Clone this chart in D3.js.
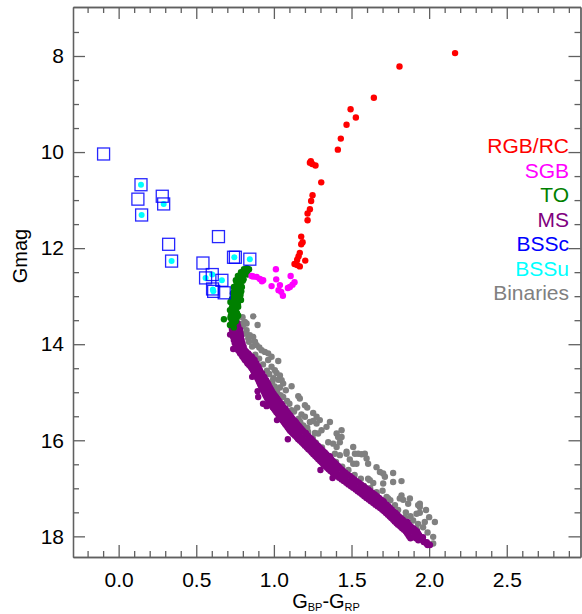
<!DOCTYPE html>
<html><head><meta charset="utf-8">
<script src="https://cdn.jsdelivr.net/npm/d3@7"></script>
<style>body{margin:0;background:#fff}svg{display:block}text{font-family:Arial,"Liberation Sans",sans-serif}</style>
</head><body><svg id="c" width="582" height="614"></svg>
<script>
// ---- tick labels ----
const xTicksMajor = [0, 0.5, 1.0, 1.5, 2.0, 2.5];
const yTicksMajor = [8, 10, 12, 14, 16, 18];
const legendLabels = ["RGB/RC", "SGB", "TO", "MS", "BSSc", "BSSu", "Binaries"];
const legendColors = ["#ff0000", "#ff00ff", "#008000", "#800080", "#0000ff", "#00ffff", "#808080"];

// ---- data: [G_BP-G_RP, Gmag] ----
const rgbRC = [[2.167,7.94],[1.809,8.22],[1.644,8.87],[1.494,9.11],[1.528,9.28],[1.468,9.43],[1.431,9.72],[1.412,9.95],
 [1.238,10.19],[1.247,10.25],[1.268,10.28],[1.232,10.22],[1.305,10.63],[1.249,10.90],[1.240,11.02],[1.232,11.19],
 [1.217,11.28],[1.217,11.42],[1.176,11.76],[1.185,11.875],[1.176,11.92],[1.167,12.10],[1.159,12.17],[1.150,12.24],
 [1.202,12.26],[1.133,12.33],[1.150,12.35],[1.167,12.38]];
const sgb = [[0.856,12.58],[0.867,12.59],[0.889,12.60],[0.910,12.64],[0.923,12.69],[0.931,12.67],[1.013,12.44],[1.015,12.65],
 [0.985,12.79],[1.039,12.77],[1.030,12.875],[1.047,12.91],[1.058,12.99],[1.108,12.58],[1.133,12.71],[1.120,12.76],
 [1.103,12.81],[1.090,12.83]];
const to = [[0.826,12.417],[0.807,12.44],[0.788,12.5],[0.820,12.52],[0.768,12.58],[0.794,12.60],[0.755,12.67],[0.781,12.71],
 [0.762,12.77],[0.742,12.81],[0.775,12.83],[0.755,12.90],[0.736,12.94],[0.768,12.96],[0.749,13.02],[0.781,13.0],
 [0.730,13.06],[0.755,13.10],[0.742,13.17],[0.768,13.17],[0.730,13.23],[0.755,13.27],[0.736,13.33],[0.762,13.35],
 [0.723,13.40],[0.749,13.44],[0.730,13.50],[0.755,13.52],[0.736,13.58],[0.678,13.48],[0.717,13.60],[0.742,13.65],
 [0.788,13.08],[0.794,12.81],[0.717,13.29],
 [0.840,12.44],[0.815,12.47],[0.830,12.55],[0.800,12.55],[0.805,12.65],[0.775,12.64],[0.785,12.75],[0.760,12.72],
 [0.790,12.90],[0.765,12.87],[0.745,12.88],[0.785,12.97],[0.760,13.05],[0.745,13.12],[0.770,13.22],[0.745,13.22],
 [0.725,13.32],[0.750,13.38],[0.760,13.46],[0.720,13.45],[0.745,13.55],[0.770,13.40],[0.720,13.12],[0.800,12.68]];
const ms = [
 [0.728,13.56],[0.748,13.56],[0.765,13.56],[0.726,13.63],[0.745,13.63],[0.770,13.63],[0.730,13.70],[0.752,13.70],[0.782,13.70],
 [0.733,13.77],[0.758,13.77],[0.785,13.77],[0.736,13.84],[0.762,13.84],[0.788,13.84],[0.742,13.91],[0.765,13.91],[0.792,13.91],
 [0.748,13.98],[0.772,13.98],[0.798,13.98],[0.756,14.05],[0.780,14.05],[0.805,14.05],[0.768,14.12],[0.790,14.12],[0.812,14.12],
 [0.782,14.19],[0.805,14.19],[0.835,14.19],[0.798,14.26],[0.825,14.26],[0.858,14.26],[0.813,14.33],[0.845,14.33],[0.876,14.33],
 [0.830,14.40],[0.858,14.40],[0.888,14.40],[0.850,14.47],[0.875,14.47],[0.900,14.47],[0.866,14.54],[0.888,14.54],[0.910,14.54],
 [0.876,14.61],[0.900,14.61],[0.924,14.61],[0.888,14.68],[0.912,14.68],[0.938,14.68],[0.900,14.75],[0.925,14.75],[0.950,14.75],
 [0.910,14.82],[0.935,14.82],[0.962,14.82],[0.920,14.89],[0.946,14.89],[0.972,14.89],[0.932,14.96],[0.958,14.96],[0.984,14.96],
 [0.942,15.03],[0.970,15.03],[0.998,15.03],[0.952,15.10],[0.982,15.10],[1.014,15.10],[0.964,15.17],[0.995,15.17],[1.030,15.17],
 [0.975,15.24],[1.010,15.24],[1.048,15.24],[0.992,15.31],[1.025,15.31],[1.062,15.31],[1.008,15.38],[1.042,15.38],[1.078,15.38],
 [1.025,15.45],[1.060,15.45],[1.096,15.45],[1.040,15.52],[1.076,15.52],[1.113,15.52],[1.056,15.59],[1.092,15.59],[1.134,15.59],
 [1.072,15.66],[1.110,15.66],[1.150,15.66],[1.088,15.73],[1.128,15.73],[1.168,15.73],[1.104,15.80],[1.145,15.80],[1.187,15.80],
 [1.124,15.87],[1.165,15.87],[1.208,15.87],[1.148,15.94],[1.186,15.94],[1.230,15.94],[1.168,16.01],[1.208,16.01],[1.251,16.01],
 [1.190,16.08],[1.230,16.08],[1.273,16.08],[1.212,16.15],[1.252,16.15],[1.295,16.15],[1.234,16.22],[1.274,16.22],[1.316,16.22],
 [1.254,16.29],[1.295,16.29],[1.338,16.29],[1.276,16.36],[1.318,16.36],[1.360,16.36],[1.298,16.43],[1.338,16.43],[1.380,16.43],
 [1.318,16.50],[1.360,16.50],[1.402,16.50],[1.342,16.57],[1.382,16.57],[1.424,16.57],[1.364,16.64],[1.404,16.64],[1.446,16.64],
 [1.392,16.71],[1.432,16.71],[1.474,16.71],[1.420,16.78],[1.460,16.78],[1.503,16.78],[1.450,16.85],[1.490,16.85],[1.532,16.85],
 [1.480,16.92],[1.520,16.92],[1.562,16.92],[1.510,16.99],[1.550,16.99],[1.592,16.99],[1.540,17.06],[1.580,17.06],[1.622,17.06],
 [1.568,17.13],[1.608,17.13],[1.650,17.13],[1.596,17.20],[1.636,17.20],[1.678,17.20],[1.624,17.27],[1.664,17.27],[1.706,17.27],
 [1.654,17.34],[1.690,17.34],[1.726,17.34],[1.684,17.41],[1.716,17.41],[1.748,17.41],[1.710,17.48],[1.740,17.48],[1.770,17.48],
 [1.734,17.55],[1.765,17.55],[1.795,17.55],[1.756,17.62],[1.788,17.62],[1.818,17.62],[1.778,17.69],[1.810,17.69],[1.842,17.69],
 [1.800,17.76],[1.835,17.76],[1.870,17.76],[1.826,17.83],[1.862,17.83],[1.898,17.83],[1.850,17.90],[1.888,17.90],[1.922,17.90],
 [1.866,17.97],[1.905,17.97],[1.935,17.97],[1.880,18.04],[1.915,18.04],[1.945,18.04],[1.965,18.12],[1.985,18.12],
 [1.990,18.18],[2.005,18.18],
 [0.899,15.10],[0.953,15.29],[1.157,15.98],[1.378,16.785],[1.983,18.15],[2.0,18.17],
 [0.735,13.595],[0.758,13.595],[0.736,13.665],[0.762,13.665],[0.740,13.735],[0.768,13.735],[0.745,13.805],[0.774,13.805],
 [0.748,13.875],[0.777,13.875],[0.752,13.945],[0.782,13.945],[0.760,14.015],[0.790,14.015],[0.772,14.085],[0.800,14.085],
 [0.778,14.155],[0.822,14.155],[0.792,14.225],[0.842,14.225],[0.808,14.295],[0.864,14.295],[0.824,14.365],[0.874,14.365],
 [0.840,14.435],[0.890,14.435],[0.858,14.505],[0.902,14.505],[0.870,14.575],[0.914,14.575],[0.882,14.645],[0.928,14.645],
 [0.894,14.715],[0.940,14.715],[0.905,14.785],[0.955,14.785],[0.914,14.855],[0.966,14.855],[0.926,14.925],[0.978,14.925],
 [0.936,14.995],[0.990,14.995],[0.946,15.065],[1.006,15.065],[0.958,15.135],[1.022,15.135],[0.970,15.205],[1.038,15.205],
 [0.984,15.275],[1.055,15.275],[1.000,15.345],[1.070,15.345],[1.016,15.415],[1.088,15.415],[1.032,15.485],[1.105,15.485],
 [1.048,15.555],[1.122,15.555],[1.064,15.625],[1.142,15.625],[1.080,15.695],[1.160,15.695],[1.096,15.765],[1.178,15.765],
 [1.114,15.835],[1.198,15.835],[1.136,15.905],[1.220,15.905],[1.158,15.975],[1.242,15.975],[1.180,16.045],[1.262,16.045],
 [1.200,16.115],[1.284,16.115],[1.222,16.185],[1.306,16.185],[1.244,16.255],[1.328,16.255],[1.266,16.325],[1.350,16.325],
 [1.286,16.395],[1.370,16.395],[1.308,16.465],[1.392,16.465],[1.330,16.535],[1.414,16.535],[1.352,16.605],[1.436,16.605],
 [1.378,16.675],[1.460,16.675],[1.406,16.745],[1.490,16.745],[1.436,16.815],[1.518,16.815],[1.466,16.885],[1.548,16.885],
 [1.496,16.955],[1.578,16.955],[1.526,17.025],[1.608,17.025],[1.554,17.095],[1.636,17.095],[1.582,17.165],[1.664,17.165],
 [1.610,17.235],[1.692,17.235],[1.640,17.305],[1.712,17.305],[1.668,17.375],[1.738,17.375],[1.698,17.445],[1.760,17.445],
 [1.722,17.515],[1.784,17.515],[1.746,17.585],[1.806,17.585],[1.768,17.655],[1.830,17.655],[1.790,17.725],[1.856,17.725],
 [1.814,17.795],[1.882,17.795],[1.838,17.865],[1.910,17.865],[1.858,17.935],[1.928,17.935],[1.872,18.005],[1.940,18.005],
 [1.930,18.08],[1.960,18.08],
 [0.718,13.80],[0.738,14.10],[0.860,14.68],[0.895,14.98],[0.930,15.24],[1.020,15.58],[1.090,15.98],[1.300,16.62],
 [0.830,14.24],[0.960,14.82],[1.075,15.35],[1.205,15.85],[1.360,16.33],[1.520,16.90],[1.700,17.38],[1.860,17.70],[1.960,18.02]];
const binaries = [[0.867,13.42],[0.895,13.60],[0.813,13.535],[0.798,13.57],[0.824,13.71],[0.845,13.81],[0.835,13.88],[0.867,13.85],
 [0.878,13.95],[0.889,14.02],[0.906,14.07],[0.921,14.125],[0.942,14.16],[0.963,14.19],[0.985,14.26],[0.963,14.33],
 [1.028,14.35],[0.985,14.47],[1.006,14.54],[1.017,14.60],[1.039,14.65],[0.996,14.71],[1.028,14.74],[1.050,14.75],
 [1.060,14.82],[1.077,14.96],[1.114,14.875],[1.039,14.90],[1.043,15.06],[1.157,15.08],[1.167,15.13],[1.200,15.27],
 [1.215,15.32],[1.114,15.375],[1.150,15.32],[1.178,15.46],[1.200,15.51],[1.253,15.43],[1.275,15.51],[1.253,15.60],
 [1.232,15.62],[1.189,15.69],[1.215,15.74],[1.275,15.65],[1.296,15.58],[1.339,15.72],[1.361,15.62],[1.307,15.79],
 [1.264,15.85],[1.285,15.86],[1.436,15.79],[1.414,15.93],[1.425,16.04],[1.350,16.04],[1.404,16.14],[1.393,16.28],
 [1.468,16.28],[1.511,16.14],[1.522,16.28],[1.565,16.29],[1.586,16.28],[1.597,16.38],[1.511,16.49],[1.532,16.49],
 [1.607,16.49],[1.661,16.56],[1.683,16.66],[1.704,16.69],[1.607,16.80],[1.640,16.89],[1.704,16.90],[1.768,16.87],
 [1.822,16.85],[1.736,17.21],[1.822,17.15],[1.833,17.24],[1.876,17.21],[1.940,17.32],[1.940,17.39],[1.919,17.53],
 [1.940,17.51],[1.844,17.60],[1.897,17.67],[1.929,17.74],[1.972,17.70],[2.037,17.70],[1.961,17.81],[2.026,18.01],
 [2.026,18.15],[1.768,16.68],[1.715,16.76],[1.683,17.25],[0.798,13.44],[0.824,13.57],[1.404,15.86],[1.436,15.93],
 [1.382,16.07],[1.468,16.24],[1.425,16.31],[1.543,16.28],[1.489,16.40],[1.618,16.83],[1.661,17.08],[1.726,17.18],
 [1.811,17.21],[1.865,17.32],[1.929,17.35],
 [0.800,13.62],[0.815,13.78],[0.840,13.95],[0.860,14.05],[0.880,14.22],[0.905,14.30],[0.930,14.42],[0.955,14.55],
 [0.970,14.62],[0.990,14.78],[1.005,14.88],[1.020,14.98],[1.060,15.10],[1.085,15.18],[1.100,15.24],[1.130,15.40],
 [1.160,15.55],[1.170,15.62],[1.220,15.82],[1.250,15.95],[1.270,16.05],[1.310,16.15],[1.330,16.30],[1.360,16.38],
 [1.400,16.45],[1.440,16.55],[1.480,16.62],[1.520,16.72],[1.560,16.80],[1.580,16.95],[1.620,17.00],[1.660,17.12],
 [1.700,17.05],[1.750,17.25],[1.780,17.35],[1.800,17.45],[1.850,17.50],[1.880,17.58],[1.920,17.85],[1.990,17.92],
 [2.000,17.60],[1.980,17.45]];
const bssc = [[-0.097,10.04],[0.144,10.68],[0.124,10.98],[0.281,10.92],[0.290,11.08],[0.148,11.31],[0.322,11.92],[0.341,12.27],
 [0.643,11.76],[0.543,12.31],[0.740,12.19],[0.752,12.19],[0.845,12.23],[0.560,12.62],[0.603,12.55],[0.665,12.67],
 [0.605,12.85],[0.612,12.90],[0.680,12.93]];
const bssu = [[0.144,10.68],[0.290,11.08],[0.148,11.31],[0.341,12.27],[0.745,12.19],[0.845,12.23],[0.560,12.62],[0.603,12.55],
 [0.665,12.67],[0.607,12.86],[0.610,12.90]];

// ---- layout ----
const P = {l:73, r:580.5, t:7, b:557};
const svg = d3.select("#c");
const x = d3.scaleLinear().domain([-0.294, 2.975]).range([P.l, P.r]);
const y = d3.scaleLinear().domain([6.98, 18.43]).range([P.t, P.b]);
const xMinor = d3.range(-2, 30).map(d => d/10).filter(d => Math.abs(d*2 - Math.round(d*2)) > 1e-6);
const yMinor = d3.range(15, 37).map(d => d/2).filter(d => d % 2 !== 0);

const axisColor = "#606060";
function style(g){
  g.selectAll("path,line").attr("stroke", axisColor).attr("stroke-width", 1.3);
  g.selectAll("text").attr("fill", "#000").attr("font-size", 21).attr("font-family", "Arial, 'Liberation Sans', sans-serif");
}
svg.append("g").attr("transform", `translate(0,${P.b})`)
  .call(d3.axisBottom(x).tickValues(xTicksMajor).tickSize(-12).tickSizeOuter(0).tickPadding(15).tickFormat(d3.format(".1f"))).call(style);
svg.append("g").attr("transform", `translate(0,${P.b})`)
  .call(d3.axisBottom(x).tickValues(xMinor).tickSize(-6).tickSizeOuter(0).tickFormat("")).call(style);
svg.append("g").attr("transform", `translate(0,${P.t})`)
  .call(d3.axisTop(x).tickValues(xTicksMajor).tickSize(-12).tickSizeOuter(0).tickFormat("")).call(style);
svg.append("g").attr("transform", `translate(0,${P.t})`)
  .call(d3.axisTop(x).tickValues(xMinor).tickSize(-6).tickSizeOuter(0).tickFormat("")).call(style);
svg.append("g").attr("transform", `translate(${P.l},0)`)
  .call(d3.axisLeft(y).tickValues(yTicksMajor).tickSize(-12).tickSizeOuter(0).tickPadding(9).tickFormat(d3.format("d"))).call(style);
svg.append("g").attr("transform", `translate(${P.l},0)`)
  .call(d3.axisLeft(y).tickValues(yMinor).tickSize(-6).tickSizeOuter(0).tickFormat("")).call(style);
svg.append("g").attr("transform", `translate(${P.r},0)`)
  .call(d3.axisRight(y).tickValues(yTicksMajor).tickSize(-12).tickSizeOuter(0).tickFormat("")).call(style);
svg.append("g").attr("transform", `translate(${P.r},0)`)
  .call(d3.axisRight(y).tickValues(yMinor).tickSize(-6).tickSizeOuter(0).tickFormat("")).call(style);

// axis titles
const xt = svg.append("text").attr("x", 326).attr("y", 608).attr("text-anchor", "middle").attr("font-size", 20).attr("fill", "#000");
xt.append("tspan").text("G");
xt.append("tspan").attr("font-size", 11).attr("dy", 3).text("BP");
xt.append("tspan").attr("dy", -3).text("-G");
xt.append("tspan").attr("font-size", 11).attr("dy", 3).text("RP");
svg.append("text").attr("transform", "translate(27,256) rotate(-90)").attr("text-anchor", "middle")
  .attr("font-size", 20).attr("fill", "#000").text("Gmag");

// marks
const R = 3.2;
function dots(data, color, r){
  svg.append("g").selectAll("circle").data(data).join("circle")
    .attr("cx", d => x(d[0])).attr("cy", d => y(d[1])).attr("r", r).attr("fill", color);
}
dots(binaries, legendColors[6], R);
dots(ms, legendColors[3], R);
dots(to, legendColors[2], R);
dots(sgb, legendColors[1], R);
dots(rgbRC, legendColors[0], R);
dots(bssu, legendColors[5], 3.0);
const S = 12;
svg.append("g").selectAll("rect").data(bssc).join("rect")
  .attr("x", d => x(d[0]) - S/2).attr("y", d => y(d[1]) - S/2).attr("width", S).attr("height", S)
  .attr("fill", "none").attr("stroke", legendColors[4]).attr("stroke-width", 1.3).attr("stroke-opacity", 0.85);

// legend
svg.append("g").selectAll("text").data(legendLabels).join("text")
  .attr("x", 569).attr("y", (d, i) => 153 + i * 24.5).attr("text-anchor", "end")
  .attr("font-size", 21).attr("fill", (d, i) => legendColors[i]).text(d => d);
</script></body></html>
